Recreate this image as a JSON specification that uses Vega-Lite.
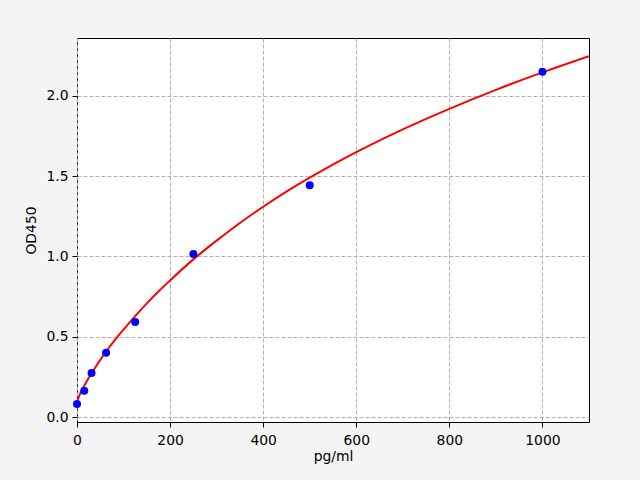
{
  "$schema": "https://vega.github.io/schema/vega-lite/v6.json",
  "description": "OD450 standard curve, pg/ml",
  "autosize": "none",
  "width": 512,
  "height": 384,
  "padding": {"left": 77, "top": 38, "right": 51, "bottom": 58},
  "background": "#f4f4f4",
  "datasets": {
    "curve": [
      {"conc": 0, "od": 0.095},
      {"conc": 5, "od": 0.134},
      {"conc": 15, "od": 0.192},
      {"conc": 30, "od": 0.267},
      {"conc": 45, "od": 0.334},
      {"conc": 62.5, "od": 0.408},
      {"conc": 85, "od": 0.493},
      {"conc": 100, "od": 0.545},
      {"conc": 125, "od": 0.629},
      {"conc": 150, "od": 0.708},
      {"conc": 175, "od": 0.782},
      {"conc": 200, "od": 0.851},
      {"conc": 250, "od": 0.982},
      {"conc": 300, "od": 1.099},
      {"conc": 350, "od": 1.209},
      {"conc": 400, "od": 1.31},
      {"conc": 450, "od": 1.404},
      {"conc": 500, "od": 1.491},
      {"conc": 600, "od": 1.65},
      {"conc": 700, "od": 1.792},
      {"conc": 800, "od": 1.92},
      {"conc": 900, "od": 2.038},
      {"conc": 1000, "od": 2.147},
      {"conc": 1100, "od": 2.248}
    ],
    "standards": [
      {"conc": 0, "od": 0.081},
      {"conc": 15.625, "od": 0.163},
      {"conc": 31.25, "od": 0.275},
      {"conc": 62.5, "od": 0.4},
      {"conc": 125, "od": 0.592},
      {"conc": 250, "od": 1.015},
      {"conc": 500, "od": 1.443},
      {"conc": 1000, "od": 2.151}
    ]
  },
  "encoding": {
    "x": {
      "field": "conc",
      "type": "quantitative",
      "title": "pg/ml",
      "scale": {"domain": [0, 1100], "nice": false, "zero": false},
      "axis": {"values": [0, 200, 400, 600, 800, 1000], "format": "d", "titlePadding": 3}
    },
    "y": {
      "field": "od",
      "type": "quantitative",
      "title": "OD450",
      "scale": {"domain": [-0.031, 2.361], "nice": false, "zero": false},
      "axis": {"values": [0, 0.5, 1, 1.5, 2], "format": ".1f", "titlePadding": 7}
    }
  },
  "layer": [
    {
      "data": {"name": "curve"},
      "mark": {"type": "line", "color": "#ff0000", "strokeWidth": 2, "interpolate": "monotone", "clip": true}
    },
    {
      "data": {"name": "standards"},
      "mark": {"type": "circle", "color": "#0000ff", "opacity": 1, "size": 64, "clip": false}
    }
  ],
  "config": {
    "font": "DejaVu Sans",
    "view": {"stroke": "#000000", "strokeWidth": 1, "fill": "#ffffff"},
    "axis": {
      "domain": false,
      "grid": true,
      "gridColor": "#b0b0b0",
      "gridDash": [4, 2],
      "gridWidth": 1,
      "gridOpacity": 1,
      "ticks": true,
      "tickColor": "#000000",
      "tickSize": 5,
      "tickWidth": 1,
      "labelColor": "#000000",
      "labelFont": "DejaVu Sans",
      "labelFontSize": 13.9,
      "labelPadding": 4,
      "labelFlush": false,
      "labelOverlap": false,
      "titleColor": "#000000",
      "titleFont": "DejaVu Sans",
      "titleFontSize": 13.9,
      "titleFontWeight": "normal"
    },
    "axisX": {"labelPadding": 6}
  }
}
